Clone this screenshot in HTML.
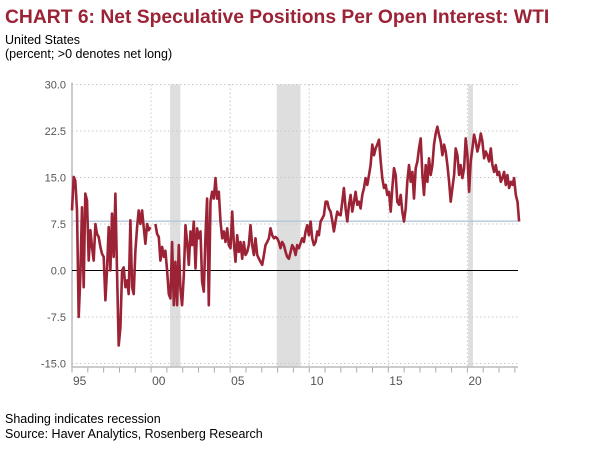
<!DOCTYPE html>
<html><head><meta charset="utf-8"><style>
body{margin:0;background:#fff;width:601px;height:450px;overflow:hidden;font-family:"Liberation Sans",Arial,sans-serif}
svg{position:absolute;left:0;top:0}
</style></head><body>
<svg width="601" height="450">
<text x="5" y="23" font-size="19.3" font-weight="bold" fill="#9b2335">CHART 6: Net Speculative Positions Per Open Interest: WTI</text>
<text x="5" y="44" font-size="12.5" fill="#000">United States</text>
<text x="5" y="58" font-size="12.5" fill="#000">(percent; &gt;0 denotes net long)</text>
<g id="plot"></g>
<text x="5" y="423" font-size="12.5" fill="#000">Shading indicates recession</text>
<text x="5" y="438" font-size="12.5" fill="#000">Source: Haver Analytics, Rosenberg Research</text>
</svg>
<script>
const startYear = 1995.0;
const stepYears = 0.10549;
const values = [9.7,15.1,14.5,9.7,-7.5,-1.1,10.2,-2.7,12.4,11.3,1.6,6.5,3.8,1.6,7.5,5.9,5.4,3.8,2.7,2.2,-4.8,0,7.0,0,9.2,2.2,12.4,0,-12.1,-9.2,0,0.5,-2.7,-1.6,-3.8,8.1,-2.7,-3.8,3.2,7.0,9.7,7.5,9.7,7.0,4.3,7.5,6.5,7.0,
null,null,
7.5,5.9,5.4,1.6,3.8,2.2,3.2,0,-3.8,
-4.5,4.6,-5.6,1.4,-5.6,4.1,-2.9,-5.6,-0.8,7.3,4.6,0.9,6.3,4.1,7.9,0.3,6.8,5.2,6.3,-1.8,-3.4,5.7,11.6,-5.6,11.1,12.7,11.6,14.9,11.6,12.7,7.9,5.2,6.3,4.6,6.8,4.1,3.6,9.5,4.6,1.4,5.7,3.0,4.6,1.9,4.6,2.5,3.0,4.1,7.3,4.1,2.5,5.2,2.5,1.9,1.4,0.9,2.5,4.1,4.6,5.2,6.8,5.7,5.2,5.4,5.2,4.6,3.6,4.6,4.1,3.0,2.2,1.9,3.0,4.1,3.6,2.5,4.1,3.6,4.4,5.2,4.6,6.3,7.3,5.7,7.9,5.2,4.1,4.6,6.3,5.7,7.9,8.4,8.9,11.1,11.1,
10.0,9.5,8.0,6.3,8.0,9.5,9.0,8.9,
11.1,13.3,10.0,7.9,10.6,12.2,9.5,11.1,12.7,10.6,11.1,10.0,12.2,13.3,14.9,13.8,15.4,17.0,20.3,18.6,19.7,20.3,21.1,17.6,14.9,13.3,13.8,12.2,12.7,9.5,13.3,16.5,15.4,11.1,10.6,12.2,9.5,7.9,10.0,14.3,17.0,14.3,15.9,11.6,16.5,17.6,19.7,21.3,15.4,12.2,17.0,14.3,18.1,15.4,17.0,20.3,22.1,23.2,21.9,20.8,18.6,20.3,19.2,17.0,14.3,11.1,13.3,15.4,19.7,18.6,15.4,17.0,14.9,16.5,21.3,18.6,12.7,17.6,19.7,21.9,20.8,19.2,20.3,22.1,20.8,18.1,19.2,18.6,17.6,19.7,17.0,15.9,17.0,15.4,15.9,14.3,14.9,15.9,13.8,15.4,13.3,14.3,13.8,14.9,12.2,11.1,7.9];
const dates = [];
for (let i = 0; i < values.length; i++) dates.push(startYear + i * stepYears);
const yTicks = [30,22.5,15,7.5,0,-7.5,-15];
const yTickLabels = ["30.0","22.5","15.0","7.5","0.0","-7.5","-15.0"];
const xMajor = [1995,2000,2005,2010,2015,2020];
const xLabels = ["95","00","05","10","15","20"];
const recessions = [[2001.2,2001.85],[2007.95,2009.45],[2020.05,2020.35]];
const refLevel = 7.95;

const X0=72, X1=518, Y0=84.5, Y1=363.5, xMin=1995, xMax=2023.2, yMin=-15, yMax=30;
const xs = v => X0 + (v - xMin) / (xMax - xMin) * (X1 - X0);
const ys = v => Y1 - (v - yMin) / (yMax - yMin) * (Y1 - Y0);
const NS='http://www.w3.org/2000/svg';
const g=document.getElementById('plot');
function mk(t,a){const e=document.createElementNS(NS,t);for(const k in a)e.setAttribute(k,a[k]);g.appendChild(e);return e;}

recessions.forEach(r=>{
  const e=mk('rect',{x:xs(r[0]),y:Y0,width:xs(r[1])-xs(r[0]),height:Y1-Y0+4,fill:'#dedede'});
  
  
});
yTicks.forEach((t,i)=>{
  if(t!==0){const l=mk('line',{x1:X0,x2:X1,y1:ys(t),y2:ys(t),stroke:'#c8c8c8','stroke-dasharray':'1.5,2.5','stroke-width':1});
  
  }
  const tx=mk('text',{x:66,y:ys(t)+4,'font-size':11,fill:'#555','text-anchor':'end'});
  tx.textContent=yTickLabels[i];
  
  
});
xMajor.forEach((t,i)=>{
  if(t>xMin){const l=mk('line',{x1:xs(t),x2:xs(t),y1:Y0,y2:Y1+3,stroke:'#c8c8c8','stroke-dasharray':'1.5,2.5'});
  
  }
  const tx=mk('text',{x:xs(t)+1,y:385,'font-size':12,fill:'#555'});
  tx.textContent=xLabels[i];
  
  
});
for(let yr=1995; yr<=2023; yr++){
  const l=mk('line',{x1:xs(yr),x2:xs(yr),y1:Y1+3,y2:Y1+9,stroke:'#aaa'});
  
  
}
const ax=mk('line',{x1:X0,x2:X0,y1:Y0-2,y2:Y1+4,stroke:'#bbb','stroke-width':1.5});


const bx=mk('line',{x1:X0,x2:X1,y1:Y1+3.5,y2:Y1+3.5,stroke:'#bbb','stroke-width':1.5});


const ref=mk('line',{x1:X0,x2:X1,y1:ys(refLevel),y2:ys(refLevel),stroke:'#b3c6dd','stroke-width':1.3});


const zero=mk('line',{x1:X0,x2:X1,y1:ys(0),y2:ys(0),stroke:'#000','stroke-width':1});



let d='',pen=false;
values.forEach((v,i)=>{
  if(v===null){pen=false;return;}
  d+=(pen?'L':'M')+xs(dates[i]).toFixed(1)+','+ys(v).toFixed(1);
  pen=true;
});
const p=mk('path',{d:d,fill:'none',stroke:'#9b2335','stroke-width':2.6,'stroke-linejoin':'round'});


</script>
</body></html>
